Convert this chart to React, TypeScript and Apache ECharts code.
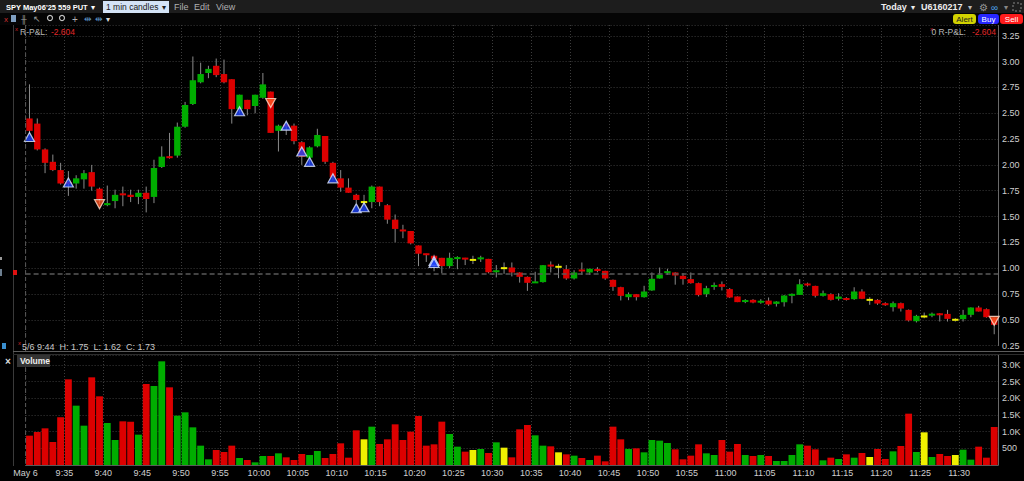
import React, { useEffect, useRef } from 'react';
import * as echarts from 'echarts';

// ---------- DATA ----------
const TIMES: string[] = [];
for (let m = 0; m < 125; m++) {
  const t = 9 * 60 + 30 + m;
  TIMES.push(`${Math.floor(t / 60)}:${String(t % 60).padStart(2, '0')}`);
}
const FIRST_LABEL = 'May 6';

const OPEN = [
  2.45, 2.40, 2.15, 2.03, 1.95, 1.83, 1.82, 1.86, 1.93, 1.77,
  1.61, 1.65, 1.72, 1.71, 1.69, 1.73, 1.69, 1.98, 2.08, 2.09,
  2.37, 2.59, 2.80, 2.89, 2.96, 2.88, 2.83, 2.54, 2.63, 2.57,
  2.65, 2.71, 2.33, 2.39, 2.38, 2.22, 2.07, 2.18, 2.28, 2.02,
  1.87, 1.78, 1.71, 1.64, 1.64, 1.79, 1.61, 1.47, 1.37, 1.36,
  1.22, 1.14, 1.12, 1.10, 1.02, 1.095, 1.095, 1.08, 1.09, 1.09,
  0.96, 1.00, 1.006, 0.958, 0.916, 0.86, 0.865, 1.03, 1.013, 0.99,
  0.90, 0.98, 0.958, 0.984, 0.974, 0.887, 0.816, 0.719, 0.748, 0.719,
  0.784, 0.90, 0.958, 0.958, 0.926, 0.894, 0.855, 0.748, 0.826, 0.845,
  0.797, 0.726, 0.68, 0.693, 0.673, 0.686, 0.654, 0.67, 0.732, 0.741,
  0.844, 0.828, 0.732, 0.748, 0.703, 0.703, 0.70, 0.774, 0.693, 0.693,
  0.661, 0.622, 0.661, 0.596, 0.486, 0.532, 0.548, 0.557, 0.557, 0.50,
  0.506, 0.548, 0.619, 0.603, 0.515,
];
const CLOSE = [
  2.33, 2.15, 2.02, 1.95, 1.82, 1.82, 1.87, 1.92, 1.79, 1.67,
  1.63, 1.71, 1.71, 1.69, 1.73, 1.67, 1.97, 2.08, 2.07, 2.37,
  2.58, 2.82, 2.88, 2.93, 2.87, 2.80, 2.54, 2.68, 2.54, 2.68,
  2.78, 2.31, 2.38, 2.37, 2.23, 2.08, 2.17, 2.29, 2.03, 1.88,
  1.78, 1.73, 1.66, 1.64, 1.79, 1.64, 1.47, 1.38, 1.36, 1.24,
  1.14, 1.13, 1.09, 1.02, 1.10, 1.10, 1.09, 1.08, 1.10, 0.96,
  0.98, 1.00, 0.958, 0.916, 0.858, 0.865, 1.029, 1.02, 1.013, 0.90,
  0.958, 0.975, 0.994, 0.98, 0.90, 0.819, 0.732, 0.748, 0.719, 0.774,
  0.897, 0.936, 0.965, 0.929, 0.894, 0.855, 0.739, 0.806, 0.829, 0.819,
  0.716, 0.671, 0.683, 0.667, 0.677, 0.648, 0.677, 0.735, 0.751, 0.844,
  0.84, 0.732, 0.757, 0.693, 0.725, 0.70, 0.774, 0.703, 0.693, 0.657,
  0.641, 0.661, 0.609, 0.493, 0.538, 0.532, 0.551, 0.55, 0.509, 0.50,
  0.548, 0.619, 0.58, 0.525, 0.451,
];
const LOW = [
  2.30, 2.14, 1.92, 1.94, 1.81, 1.70, 1.77, 1.77, 1.75, 1.62,
  1.60, 1.58, 1.60, 1.64, 1.62, 1.54, 1.63, 1.97, 2.06, 2.07,
  2.36, 2.58, 2.79, 2.84, 2.85, 2.79, 2.40, 2.50, 2.48, 2.50,
  2.64, 2.31, 2.13, 2.29, 2.20, 2.00, 2.00, 2.17, 2.01, 1.85,
  1.74, 1.73, 1.63, 1.60, 1.58, 1.60, 1.43, 1.25, 1.29, 1.23,
  1.02, 1.06, 0.97, 0.95, 1.00, 0.99, 1.03, 1.04, 1.06, 0.95,
  0.91, 0.945, 0.92, 0.86, 0.78, 0.86, 0.86, 0.958, 0.903, 0.887,
  0.89, 0.935, 0.935, 0.96, 0.887, 0.78, 0.687, 0.69, 0.687, 0.715,
  0.78, 0.90, 0.935, 0.84, 0.84, 0.85, 0.726, 0.72, 0.79, 0.784,
  0.71, 0.671, 0.661, 0.66, 0.655, 0.635, 0.628, 0.628, 0.66, 0.74,
  0.822, 0.716, 0.725, 0.686, 0.686, 0.686, 0.693, 0.70, 0.645, 0.645,
  0.635, 0.58, 0.58, 0.483, 0.474, 0.515, 0.525, 0.483, 0.483, 0.483,
  0.483, 0.525, 0.58, 0.52, 0.36,
];
const HIGH = [
  2.78, 2.45, 2.16, 2.10, 2.02, 1.94, 1.90, 1.95, 2.00, 1.78,
  1.80, 1.76, 1.79, 1.76, 1.76, 1.79, 2.05, 2.18, 2.31, 2.41,
  2.61, 3.05, 2.99, 2.96, 3.03, 3.02, 2.83, 2.68, 2.63, 2.68,
  2.89, 2.71, 2.39, 2.42, 2.40, 2.23, 2.18, 2.35, 2.28, 2.03,
  1.95, 1.87, 1.72, 1.71, 1.80, 1.79, 1.62, 1.52, 1.42, 1.36,
  1.22, 1.14, 1.13, 1.10, 1.15, 1.115, 1.10, 1.12, 1.12, 1.09,
  1.03, 1.055, 1.055, 0.96, 0.92, 0.965, 1.03, 1.065, 1.042, 1.03,
  0.98, 1.055, 0.995, 1.01, 0.975, 0.89, 0.82, 0.765, 0.75, 0.829,
  0.958, 1.006, 0.994, 0.96, 0.952, 0.958, 0.86, 0.829, 0.861, 0.871,
  0.807, 0.726, 0.70, 0.70, 0.70, 0.716, 0.68, 0.74, 0.755, 0.893,
  0.86, 0.83, 0.783, 0.757, 0.757, 0.719, 0.815, 0.796, 0.719, 0.70,
  0.67, 0.677, 0.667, 0.60, 0.548, 0.57, 0.57, 0.564, 0.596, 0.515,
  0.596, 0.62, 0.635, 0.61, 0.52,
];
const VOLUME = [
  880, 990, 1100, 690, 1430, 2570, 1780, 1180, 2630, 2060,
  1260, 750, 1310, 1300, 910, 2430, 2370, 3110, 2330, 1480,
  1580, 1130, 580, 170, 450, 390, 580, 210, 150, 80,
  270, 270, 350, 230, 150, 330, 300, 420, 210, 330,
  650, 220, 1040, 770, 1150, 630, 770, 1220, 750, 1000,
  1470, 580, 620, 1300, 930, 550, 400, 450, 480, 360,
  680, 520, 230, 1070, 1200, 890, 580, 560, 380, 320,
  280, 210, 150, 280, 110, 1150, 770, 480, 500, 380,
  750, 730, 660, 470, 170, 280, 620, 350, 300, 750,
  400, 630, 300, 270, 300, 270, 120, 120, 300, 620,
  580, 470, 140, 220, 180, 320, 220, 360, 240, 480,
  180, 410, 570, 1540, 390, 980, 240, 330, 270, 300,
  460, 160, 550, 220, 1140,
];

// trade markers
const BUY_IDX = [0, 5, 27, 33, 35, 36, 39, 42, 43, 52, 52];
const BUY_PRICE = [2.27, 1.83, 2.52, 2.38, 2.13, 2.03, 1.87, 1.58, 1.59, 1.07, 1.05];
const SELL_IDX = [9, 31, 124];
const SELL_PRICE = [1.62, 2.60, 0.49];

const PRICE_TICKS = { min: 0.25, step: 0.25 };
const REF_LEVEL = 0.955;
const LAST_QUOTE = 0.36;
const VOL_TICKS = { min: 0, step: 500 };

// ---------- STYLE ----------
const RED = '#dc0000';
const GREEN = '#00ad00';
const YELLOW = '#f0f000';
const WICK = '#8a8a8a';
const AXIS_TXT = '#cfcfcf';
const GRIDLINE = '#3c3c3c';
const FONT = '"Liberation Sans", Arial, sans-serif';

const dirColor = (i: number) =>
  CLOSE[i] > OPEN[i] ? GREEN : CLOSE[i] < OPEN[i] ? RED : YELLOW;

const G_LEFT = 25.6;
const G_RIGHT = 25.9;

export default function App() {
  const ref = useRef<HTMLDivElement>(null);
  useEffect(() => {
    if (!ref.current) return;
    const chart = echarts.init(ref.current, undefined, { renderer: 'svg' });

    const candleData = TIMES.map((_, i) => [i, OPEN[i], CLOSE[i], LOW[i], HIGH[i]]);
    const volData = VOLUME.map((v, i) => ({ value: v, itemStyle: { color: dirColor(i) } }));
    const buyData = BUY_IDX.map((x, k) => [x, BUY_PRICE[k]]);
    const sellData = SELL_IDX.map((x, k) => [x, SELL_PRICE[k]]);

    const splitEvery5 = (idx: number) => idx % 5 === 0;

    const txt = (x: number, y: number, text: string, fill: string, size = 9, weight = 'normal', align = 'left') => ({
      type: 'text',
      x,
      y,
      z: 100,
      style: {
        text,
        fill,
        font: `${weight} ${size}px ${FONT}`,
        textAlign: align,
        textVerticalAlign: 'middle',
      },
    });
    const rect = (x: number, y: number, w: number, h: number, fill: string, r = 0) => ({
      type: 'rect',
      z: 90,
      shape: { x, y, width: w, height: h, r },
      style: { fill },
    });
    const line = (x1: number, y1: number, x2: number, y2: number, stroke: string, dash?: number[]) => ({
      type: 'line',
      z: 50,
      shape: { x1, y1, x2, y2 },
      style: { stroke, lineWidth: 1, lineDash: dash },
      silent: true,
    });

    const graphics: any[] = [
      // header bar
      rect(0, 0, 1024, 13, '#1d1d1d'),
      rect(0, 13, 1024, 12, '#050505'),
      txt(6, 7, "SPY May06'25 559 PUT", '#ffffff', 7.5, 'bold'),
      txt(91, 7, '▾', '#ffffff', 8),
      rect(103, 1, 66, 12, '#d4e3f6'),
      txt(106, 7, '1 min candles', '#1a1a1a', 8.5),
      txt(162, 7, '▾', '#1a1a1a', 8),
      txt(174, 7, 'File', '#b0b0b0', 9),
      txt(194, 7, 'Edit', '#b0b0b0', 9),
      txt(216, 7, 'View', '#b0b0b0', 9),
      txt(881, 7, 'Today', '#eeeeee', 9, 'bold'),
      txt(911, 7, '▾', '#eeeeee', 8),
      txt(921, 7, 'U6160217', '#eeeeee', 9, 'bold'),
      txt(968, 7, '▾', '#bbbbbb', 8),
      txt(979, 7, '⚙', '#9a9a9a', 10),
      txt(991, 7, '∞', '#4a9ee0', 10),
      txt(1004, 7, '▾', '#888888', 8),
      {
        type: 'rect', z: 90,
        shape: { x: 1013, y: 3, width: 8, height: 8 },
        style: { fill: 'none', stroke: '#888', lineWidth: 1, lineDash: [2, 2] },
      },
      // toolbar
      txt(4, 19, 'x', '#d03030', 8),
      rect(11, 15, 5, 7, '#7f9fc0'),
      txt(21, 19, '╫', '#a0a0a0', 8),
      txt(33, 19, '↖', '#a0a0a0', 9),
      { type: 'circle', z: 90, shape: { cx: 50, cy: 18, r: 2.5 }, style: { fill: 'none', stroke: '#c0c0c0', lineWidth: 1.2 } },
      line(52, 20, 55, 23, '#c0c0c0'),
      { type: 'circle', z: 90, shape: { cx: 62, cy: 18, r: 2.5 }, style: { fill: 'none', stroke: '#c0c0c0', lineWidth: 1.2 } },
      line(64, 20, 67, 23, '#c0c0c0'),
      txt(72, 19, '+', '#b0b0b0', 10),
      txt(84, 19, '⇹', '#5a90c0', 9),
      txt(95, 19, '⇹', '#5a90c0', 9),
      txt(106, 19, '▾', '#dddddd', 8),
      // buttons
      rect(953, 14, 23, 10, '#d2d200', 3),
      txt(964.5, 19, 'Alert', '#222222', 8, 'normal', 'center'),
      rect(978, 14, 21, 10, '#2626ff', 3),
      txt(988.5, 19, 'Buy', '#ffffff', 8, 'normal', 'center'),
      rect(1000, 14, 23, 10, '#ff1c1c', 3),
      txt(1011.5, 19, 'Sell', '#ffffff', 8, 'normal', 'center'),
      // pane frames
      line(13.5, 25, 13.5, 466, '#3a3a3a'),
      line(G_LEFT, 25, G_LEFT, 466, '#5a5a5a', [4, 3]),
      line(13, 351.5, 1024, 351.5, '#5c5c5c'),
      line(13, 354.5, 1024, 354.5, '#2c2c2c'),
      // left side markers
      rect(0, 257, 2, 3, '#9a9a9a'),
      rect(0, 269, 2, 7, '#6d7f90'),
      rect(13, 270, 4, 5, '#e01010'),
      rect(2, 343, 4, 6, '#3a8fd0'),
      // P&L texts
      txt(15, 29, 'x', '#d02020', 6),
      txt(20, 32, 'R-P&L:', '#b8b8b8', 8.5),
      txt(75, 32, '-2.604', '#e02828', 8.5, 'normal', 'right'),
      txt(930, 29, 'x', '#d02020', 6),
      txt(966, 32, '0 R-P&L:', '#b8b8b8', 8.5, 'normal', 'right'),
      txt(996, 32, '-2.604', '#e02828', 8.5, 'normal', 'right'),
      // OHLC status line
      txt(18, 343, 'x', '#d02020', 6),
      txt(22, 347, '5/6 9:44  H: 1.75  L: 1.62  C: 1.73', '#c8c8c8', 9),
      // volume label
      txt(5, 361, '×', '#dddddd', 10, 'bold'),
      rect(17, 355, 33, 12, '#333333'),
      txt(20, 361, 'Volume', '#eeeeee', 8.5, 'bold'),
    ];

    const option: any = {
      animation: false,
      backgroundColor: '#000000',
      textStyle: { fontFamily: FONT },
      grid: [
        { left: G_LEFT, right: G_RIGHT, top: 25, bottom: 481 - 345.6 },
        { left: G_LEFT, right: G_RIGHT, top: 355, bottom: 16 },
      ],
      xAxis: [
        {
          type: 'category',
          gridIndex: 0,
          data: TIMES,
          boundaryGap: true,
          axisLine: { show: false },
          axisTick: { show: false },
          axisLabel: { show: false },
          splitLine: { show: true, interval: splitEvery5, lineStyle: { color: GRIDLINE, type: [1, 2] } },
        },
        {
          type: 'category',
          gridIndex: 1,
          data: TIMES,
          boundaryGap: true,
          axisLine: { show: true, lineStyle: { color: '#5a5a5a' } },
          axisTick: { show: false },
          splitLine: { show: true, interval: splitEvery5, lineStyle: { color: GRIDLINE, type: [1, 2] } },
          axisLabel: {
            interval: (idx: number) => idx % 5 === 0,
            margin: 3,
            formatter: (v: string, idx: number) => `{t|${idx === 0 ? FIRST_LABEL : v}}`,
            rich: { t: { color: AXIS_TXT, fontSize: 9, fontFamily: FONT, padding: [0, 8, 0, 0] } },
          },
        },
      ],
      yAxis: [
        {
          type: 'value',
          gridIndex: 0,
          position: 'right',
          min: PRICE_TICKS.min,
          max: 3.355,
          interval: PRICE_TICKS.step,
          axisLine: { show: true, lineStyle: { color: '#6a6a6a' } },
          axisTick: { show: false },
          axisLabel: {
            color: AXIS_TXT,
            fontSize: 9,
            fontFamily: FONT,
            margin: 4,
            showMaxLabel: false,
            formatter: (v: number) => v.toFixed(2),
          },
          splitLine: { show: true, lineStyle: { color: GRIDLINE, type: [1, 2] } },
        },
        {
          type: 'value',
          gridIndex: 1,
          position: 'right',
          min: VOL_TICKS.min,
          max: 3300,
          interval: VOL_TICKS.step,
          axisLine: { show: true, lineStyle: { color: '#6a6a6a' } },
          axisTick: { show: false },
          axisLabel: {
            color: AXIS_TXT,
            fontSize: 9,
            fontFamily: FONT,
            margin: 4,
            showMaxLabel: false,
            showMinLabel: false,
            formatter: (v: number) => (v >= 1000 ? (v / 1000).toFixed(1) + 'K' : String(v)),
          },
          splitLine: { show: true, lineStyle: { color: GRIDLINE, type: [1, 2] } },
        },
      ],
      series: [
        {
          type: 'custom',
          name: 'price',
          xAxisIndex: 0,
          yAxisIndex: 0,
          data: candleData,
          encode: { x: 0, y: [1, 2, 3, 4] },
          renderItem: (params: any, api: any) => {
            const x = api.value(0);
            const o = api.value(1);
            const c = api.value(2);
            const l = api.value(3);
            const h = api.value(4);
            const pO = api.coord([x, o]);
            const pC = api.coord([x, c]);
            const pL = api.coord([x, l]);
            const pH = api.coord([x, h]);
            const bw = api.size([1, 0])[0];
            const w = bw - 1.4;
            const color = c > o ? GREEN : c < o ? RED : YELLOW;
            let top = Math.min(pO[1], pC[1]);
            let hh = Math.abs(pO[1] - pC[1]);
            if (hh < 2) {
              top = (pO[1] + pC[1]) / 2 - 1;
              hh = 2;
            }
            return {
              type: 'group',
              children: [
                {
                  type: 'line',
                  shape: { x1: pO[0], y1: pH[1], x2: pO[0], y2: pL[1] },
                  style: { stroke: WICK, lineWidth: 1 },
                },
                {
                  type: 'rect',
                  shape: { x: pO[0] - w / 2, y: top, width: w, height: hh },
                  style: { fill: color },
                },
              ],
            };
          },
          markLine: {
            silent: true,
            symbol: 'none',
            data: [
              {
                yAxis: REF_LEVEL,
                lineStyle: { color: '#5a5a5a', type: [5, 3], width: 1.5 },
                label: { show: false },
              },
              {
                yAxis: LAST_QUOTE,
                lineStyle: { opacity: 0 },
                label: {
                  show: true,
                  position: 'end',
                  distance: 2,
                  formatter: LAST_QUOTE.toFixed(2),
                  color: '#1a1a1a',
                  backgroundColor: '#cccc22',
                  padding: [1, 2, 1, 2],
                  borderRadius: 2,
                  fontSize: 9,
                  fontFamily: FONT,
                },
              },
            ],
          },
          z: 3,
        },
        {
          type: 'scatter',
          name: 'buys',
          xAxisIndex: 0,
          yAxisIndex: 0,
          data: buyData,
          symbol: 'triangle',
          symbolSize: [10, 9],
          itemStyle: { color: '#1f45ff', borderColor: '#dfe8ff', borderWidth: 1.2 },
          z: 5,
        },
        {
          type: 'scatter',
          name: 'sells',
          xAxisIndex: 0,
          yAxisIndex: 0,
          data: sellData,
          symbol: 'triangle',
          symbolRotate: 180,
          symbolSize: [10, 9],
          itemStyle: { color: '#ff5522', borderColor: '#ffe0d0', borderWidth: 1.2 },
          z: 5,
        },
        {
          type: 'bar',
          name: 'volume',
          xAxisIndex: 1,
          yAxisIndex: 1,
          data: volData,
          barCategoryGap: '12%',
          itemStyle: { borderWidth: 0 },
        },
      ],
      graphic: graphics,
    };

    chart.setOption(option);
    return () => chart.dispose();
  }, []);

  return (
    <div
      ref={ref}
      style={{ position: 'fixed', left: 0, top: 0, width: 1024, height: 481, background: '#000' }}
    />
  );
}
